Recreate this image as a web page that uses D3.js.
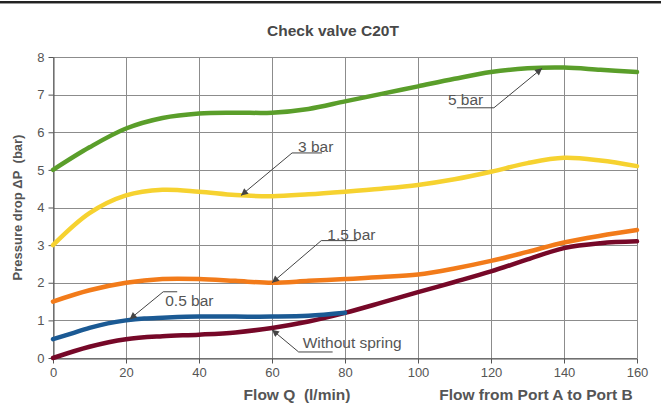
<!DOCTYPE html>
<html>
<head>
<meta charset="utf-8">
<script src="https://cdn.jsdelivr.net/npm/d3@7"></script>
<style>
  html, body { margin: 0; padding: 0; background: #fff; }
  svg { display: block; }
</style>
</head>
<body>
<svg id="chart" width="661" height="420"></svg>
<script>
// ---- data ----
const flow = [0, 10, 20, 30, 40, 50, 60, 70, 80, 90, 100, 110, 120, 130, 140, 150, 160];
const bar5 = [5.0, 5.6, 6.1, 6.38, 6.5, 6.52, 6.52, 6.62, 6.82, 7.02, 7.22, 7.42, 7.6, 7.7, 7.72, 7.66, 7.6];
const bar3 = [3.0, 3.85, 4.32, 4.47, 4.42, 4.33, 4.3, 4.35, 4.42, 4.5, 4.6, 4.75, 4.95, 5.18, 5.32, 5.25, 5.1];
const bar15 = [1.5, 1.8, 2.0, 2.1, 2.1, 2.05, 2.0, 2.05, 2.1, 2.15, 2.22, 2.38, 2.58, 2.82, 3.07, 3.25, 3.4];
const flow05 = [0, 5, 10, 15, 20, 25, 30, 40, 50, 60, 70, 80];
const bar05 = [0.5, 0.65, 0.8, 0.92, 1.0, 1.05, 1.07, 1.1, 1.1, 1.1, 1.12, 1.2];
const noSpring = [0.0, 0.3, 0.5, 0.58, 0.62, 0.68, 0.8, 0.97, 1.2, 1.47, 1.75, 2.02, 2.3, 2.62, 2.92, 3.05, 3.1];
const xTicks = [0, 20, 40, 60, 80, 100, 120, 140, 160];
const yTicks = [0, 1, 2, 3, 4, 5, 6, 7, 8];

const seriesNames = ["5 bar", "3 bar", "1.5 bar", "0.5 bar", "Without spring"];
const seriesColors = ["#5a9e2a", "#f6d230", "#f27b1a", "#1b5a94", "#760828"];

// annotations: label, target (flow, value) on curve, label anchor (flow, value)
const annLabels = ["5 bar", "3 bar", "1.5 bar", "0.5 bar", "Without spring"];
const annTargetX = [134, 51.5, 60, 21, 60];
const annTargetY = [7.7, 4.32, 2.0, 1.03, 0.75];
const annAnchorX = [120.8, 65.5, 73.5, 30.2, 67.3];
const annAnchorY = [6.65, 5.45, 3.12, 1.76, 0.16];

// ---- layout ----
const svg = d3.select("#chart");
const W = 661, H = 420;
const m = { left: 53, right: 24, top: 57, bottom: 62 };
const x = d3.scaleLinear().domain([0, 160]).range([m.left, W - m.right]);
const y = d3.scaleLinear().domain([0, 8]).range([H - m.bottom, m.top]);

// top border
svg.append("rect").attr("x", 0).attr("y", 1).attr("width", W).attr("height", 2).attr("fill", "#222");
svg.append("rect").attr("x", 0).attr("y", 3).attr("width", W).attr("height", 1).attr("fill", "#999");

const annFont = "Liberation Sans, Arial, sans-serif";

// title
svg.append("text").attr("x", 333).attr("y", 36).attr("text-anchor", "middle")
  .attr("font-family", annFont).attr("font-weight", "bold")
  .attr("font-size", 15.5).attr("fill", "#484848").text("Check valve C20T");

// grid
const grid = svg.append("g");
grid.selectAll("line.v").data(xTicks).join("line")
  .attr("x1", d => x(d) + 0.5).attr("x2", d => x(d) + 0.5)
  .attr("y1", y(8)).attr("y2", y(0))
  .attr("stroke", "#8c8c8c").attr("stroke-width", 1);
grid.selectAll("line.h").data(yTicks).join("line")
  .attr("x1", x(0)).attr("x2", x(160))
  .attr("y1", d => Math.round(y(d)) + 0.5).attr("y2", d => Math.round(y(d)) + 0.5)
  .attr("stroke", "#8c8c8c").attr("stroke-width", 1);

// axes
const tickFont = "Liberation Sans Narrow, Arial Narrow, Liberation Sans, sans-serif";
const xAxis = svg.append("g").attr("transform", `translate(0,${Math.round(y(0)) + 0.5})`)
  .call(d3.axisBottom(x).tickValues(xTicks).tickSize(5).tickSizeOuter(0).tickPadding(4));
const yAxis = svg.append("g").attr("transform", `translate(${m.left + 0.5},0)`)
  .call(d3.axisLeft(y).tickValues(yTicks).tickSize(5).tickSizeOuter(0).tickPadding(4));
[xAxis, yAxis].forEach(a => {
  a.select(".domain").attr("stroke", "#555");
  a.selectAll(".tick line").attr("stroke", "#555");
  a.selectAll(".tick text").attr("font-family", tickFont).attr("font-size", 13).attr("fill", "#555");
});

// curves
const line = d3.line().curve(d3.curveCatmullRom.alpha(0.5));
const seriesData = [
  flow.map((f, i) => [x(f), y(bar5[i])]),
  flow.map((f, i) => [x(f), y(bar3[i])]),
  flow.map((f, i) => [x(f), y(bar15[i])]),
  flow05.map((f, i) => [x(f), y(bar05[i])]),
  flow.map((f, i) => [x(f), y(noSpring[i])])
];
const drawOrder = [0, 1, 2, 4, 3];
svg.append("g").selectAll("path").data(drawOrder).join("path")
  .attr("d", i => line(seriesData[i]))
  .attr("fill", "none").attr("stroke", i => seriesColors[i])
  .attr("stroke-width", 4.5).attr("stroke-linecap", "round").attr("stroke-linejoin", "round");

// annotations
svg.append("defs").append("marker").attr("id", "arr")
  .attr("viewBox", "0 0 10 10").attr("refX", 10).attr("refY", 5)
  .attr("markerWidth", 11).attr("markerHeight", 7).attr("markerUnits", "userSpaceOnUse")
  .attr("orient", "auto")
  .append("path").attr("d", "M0,0 L10,5 L0,10 z").attr("fill", "#444");

const ann = svg.append("g");
annLabels.forEach((lab, i) => {
  const ax = x(annAnchorX[i]), ay = y(annAnchorY[i]);
  const tx = x(annTargetX[i]), ty = y(annTargetY[i]);
  const g = ann.append("g");
  g.append("line").attr("x1", ax).attr("y1", ay).attr("x2", tx).attr("y2", ty)
    .attr("stroke", "#444").attr("stroke-width", 1).attr("marker-end", "url(#arr)");
  const t = g.append("text").attr("font-family", annFont).attr("font-size", 15.5).attr("fill", "#555").text(lab);
  if (i === 0) {
    t.attr("x", ax - 46).attr("y", ay - 3);
    g.append("line").attr("x1", ax - 37).attr("x2", ax).attr("y1", ay).attr("y2", ay).attr("stroke", "#444");
  } else if (i === 3) {
    t.attr("x", ax + 2).attr("y", ay + 14);
    g.append("line").attr("x1", ax).attr("x2", ax + 14).attr("y1", ay).attr("y2", ay).attr("stroke", "#444");
  } else if (i === 4) {
    t.attr("x", ax + 4).attr("y", ay - 4);
    g.append("line").attr("x1", ax).attr("x2", ax + 34).attr("y1", ay).attr("y2", ay).attr("stroke", "#444");
  } else {
    t.attr("x", ax + 6).attr("y", ay - 1);
    g.append("line").attr("x1", ax).attr("x2", ax + (i === 1 ? 30 : 36)).attr("y1", ay).attr("y2", ay).attr("stroke", "#444");
  }
});

// axis titles
svg.append("text").attr("transform", `translate(22,${(y(0) + y(8)) / 2}) rotate(-90)`)
  .attr("text-anchor", "middle").attr("font-family", annFont).attr("font-weight", "bold")
  .attr("font-size", 13).attr("fill", "#555").text("Pressure drop ΔP\u00A0\u00A0(bar)");
svg.append("text").attr("x", 297).attr("y", 400).attr("text-anchor", "middle")
  .attr("font-family", annFont).attr("font-weight", "bold").attr("font-size", 15.5)
  .attr("fill", "#555").text("Flow Q\u00A0\u00A0(l/min)");
svg.append("text").attr("x", 536).attr("y", 400).attr("text-anchor", "middle")
  .attr("font-family", annFont).attr("font-weight", "bold").attr("font-size", 15.5)
  .attr("fill", "#555").text("Flow from Port A to Port B");
</script>
</body>
</html>
